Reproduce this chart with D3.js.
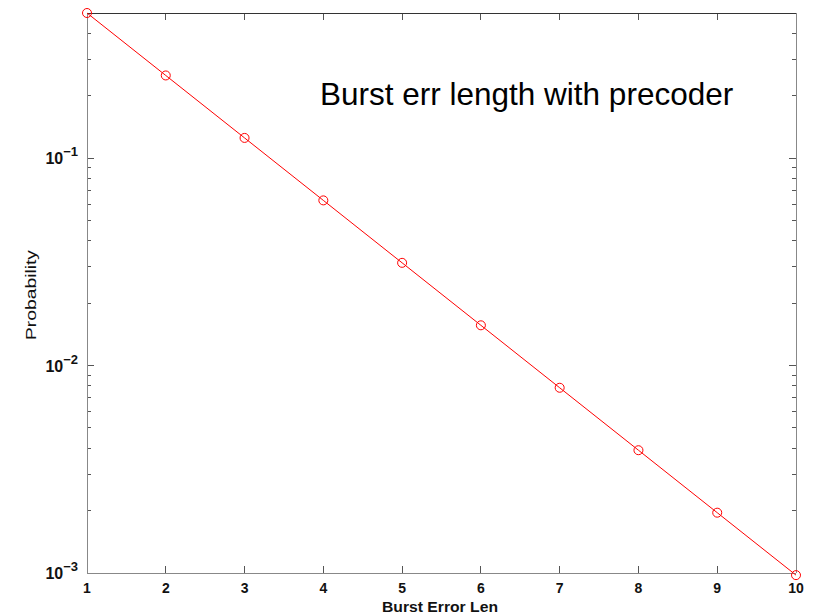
<!DOCTYPE html>
<html>
<head>
<meta charset="utf-8">
<script src="https://cdn.jsdelivr.net/npm/d3@7"></script>
<style>
  html, body { margin: 0; padding: 0; background: #fff; }
  svg { display: block; }
</style>
</head>
<body>
<svg id="chart" width="815" height="616"></svg>
<script>
// Burst error length distribution with precoder
const burstLen = [1, 2, 3, 4, 5, 6, 7, 8, 9, 10];
const probability = [0.5, 0.25, 0.125, 0.0625, 0.03125, 0.015625, 0.0078125, 0.00390625, 0.001953125, 0.0009765625];
const xTicks = [1, 2, 3, 4, 5, 6, 7, 8, 9, 10];
const yMajorExp = [-3, -2, -1];
const titleText = "Burst err length with precoder";
const xLabel = "Burst Error Len";
const yLabel = "Probability";

const W = 815, H = 616;
const m = { left: 87, right: 19, top: 13, bottom: 43 };
const svg = d3.select("#chart");

const x = d3.scaleLinear().domain([1, 10]).range([m.left, W - m.right]);
const y = d3.scaleLog().domain([0.001, 0.5]).range([H - m.bottom, m.top]);

const x0 = m.left, x1 = W - m.right, y0 = H - m.bottom, y1 = m.top;

// minor log ticks: 2..9 times each decade, within the domain
const minor = [];
[-3, -2, -1].forEach(e => {
  for (let k = 2; k <= 9; k++) {
    const v = k * Math.pow(10, e);
    if (v <= 0.5 + 1e-12) minor.push(v);
  }
});

const ticks = svg.append("g").attr("stroke", "#555").attr("stroke-width", 1).attr("shape-rendering", "crispEdges");
// x ticks on bottom and top, pointing inward
xTicks.forEach(t => {
  ticks.append("line").attr("x1", x(t)).attr("x2", x(t)).attr("y1", y0).attr("y2", y0 - 7);
  ticks.append("line").attr("x1", x(t)).attr("x2", x(t)).attr("y1", y1).attr("y2", y1 + 7);
});
// y major ticks
yMajorExp.forEach(e => {
  const v = Math.pow(10, e);
  ticks.append("line").attr("x1", x0).attr("x2", x0 + 7).attr("y1", y(v)).attr("y2", y(v));
  ticks.append("line").attr("x1", x1).attr("x2", x1 - 7).attr("y1", y(v)).attr("y2", y(v));
});
// y minor ticks
minor.forEach(v => {
  ticks.append("line").attr("x1", x0).attr("x2", x0 + 4).attr("y1", y(v)).attr("y2", y(v));
  ticks.append("line").attr("x1", x1).attr("x2", x1 - 4).attr("y1", y(v)).attr("y2", y(v));
});

// axes box
const box = svg.append("g").attr("fill", "none").attr("shape-rendering", "crispEdges");
box.append("line").attr("x1", x0).attr("x2", x0).attr("y1", y1).attr("y2", y0).attr("stroke", "#888");
box.append("line").attr("x1", x0).attr("x2", x1).attr("y1", y0).attr("y2", y0).attr("stroke", "#888");
box.append("line").attr("x1", x1).attr("x2", x1).attr("y1", y1).attr("y2", y0).attr("stroke", "#888");
box.append("line").attr("x1", x0).attr("x2", x1).attr("y1", y1).attr("y2", y1).attr("stroke", "#333");

// x tick labels
svg.append("g").selectAll("text").data(xTicks).join("text")
  .attr("x", d => x(d)).attr("y", y0 + 20)
  .attr("text-anchor", "middle")
  .attr("font-family", "Liberation Sans, Arial, sans-serif")
  .attr("font-size", 14).attr("font-weight", "bold").attr("fill", "#111")
  .text(d => d);

// y tick labels as 10^e
const yl = svg.append("g").attr("font-family", "Liberation Sans, Arial, sans-serif").attr("fill", "#111").attr("font-weight", "bold");
yMajorExp.forEach(e => {
  const yy = y(Math.pow(10, e));
  const t = yl.append("text").attr("x", 78).attr("y", yy + 6).attr("text-anchor", "end").attr("font-size", 16);
  t.append("tspan").text("10");
  t.append("tspan").attr("dy", -8).attr("font-size", 13).text(String(e).replace("-", "\u2212"));
});

// data line and circle markers
const line = d3.line().x((d, i) => x(burstLen[i])).y(d => y(d));
svg.append("path").datum(probability)
  .attr("d", line).attr("fill", "none").attr("stroke", "#f00").attr("stroke-width", 1);
svg.append("g").selectAll("circle").data(probability).join("circle")
  .attr("cx", (d, i) => x(burstLen[i])).attr("cy", d => y(d)).attr("r", 4.5)
  .attr("fill", "none").attr("stroke", "#f00").attr("stroke-width", 1);

// in-plot title text
svg.append("text").attr("x", 320).attr("y", 105)
  .attr("font-family", "Liberation Sans, Arial, sans-serif")
  .attr("font-size", 31.5).attr("fill", "#000")
  .text(titleText);

// axis labels
svg.append("text").attr("x", 440).attr("y", 612)
  .attr("text-anchor", "middle")
  .attr("font-family", "Liberation Sans, Arial, sans-serif")
  .attr("font-size", 15).attr("font-weight", "bold").attr("fill", "#111")
  .attr("textLength", 116).attr("lengthAdjust", "spacingAndGlyphs")
  .text(xLabel);
svg.append("text")
  .attr("transform", "translate(36, 295) rotate(-90)")
  .attr("text-anchor", "middle")
  .attr("font-family", "Liberation Sans, Arial, sans-serif")
  .attr("font-size", 15).attr("fill", "#111")
  .attr("textLength", 90).attr("lengthAdjust", "spacingAndGlyphs")
  .text(yLabel);
</script>
</body>
</html>
